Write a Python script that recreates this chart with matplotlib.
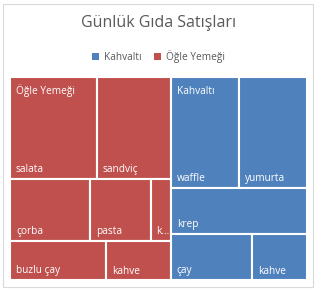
import matplotlib.pyplot as plt
from matplotlib.patches import Rectangle, Patch

plt.rcParams['font.family'] = ['Open Sans', 'DejaVu Sans']

# =========================
# data
# =========================
title = 'Günlük Gıda Satışları'
groups = ['Öğle Yemeği', 'Kahvaltı']
group_colors = ['#C0504D', '#4F81BD']

# rows as Excel laid them out (names + values per row)
ogle_names = [['salata', 'sandviç'], ['çorba', 'pasta', 'kurabiye'], ['buzlu çay', 'kahve']]
ogle_values = [[7, 6], [4, 3, 1], [3, 2]]
kahvalti_names = [['waffle', 'yumurta'], ['krep'], ['çay', 'kahve']]
kahvalti_values = [[6, 6], [5], [3, 2]]

group_names = [ogle_names, kahvalti_names]
group_values = [ogle_values, kahvalti_values]

# =========================
# figure
# =========================
W, H = 317, 290
fig = plt.figure(figsize=(W / 100, H / 100), dpi=100)

# plot area in pixels (left, top, right, bottom)
L, T, R, B = 10, 77, 306.7, 280
ax = fig.add_axes([L / W, 1 - B / H, (R - L) / W, (B - T) / H])
aw, ah = R - L, B - T
ax.set_xlim(0, aw)
ax.set_ylim(ah, 0)
ax.axis('off')

fig.patches.append(Rectangle((3 / W, 3 / H), 310 / W, 283 / H, transform=fig.transFigure,
                             fill=False, edgecolor='#D9D9D9', lw=0.8))

fig.text(0.5, 1 - 23 / H, title, ha='center', va='center', fontsize=11.5, color='#595959')

handles = [Patch(facecolor=group_colors[1], label=groups[1]),
           Patch(facecolor=group_colors[0], label=groups[0])]
fig.legend(handles=handles, loc='center', bbox_to_anchor=(0.5, 1 - 57 / H), ncol=2,
           frameon=False, fontsize=7.3, handlelength=0.7, handleheight=0.7,
           handletextpad=0.5, columnspacing=1.2, labelcolor='#595959')

renderer = fig.canvas.get_renderer()


def fit_label(txt, name, max_w):
    # kisalt: sigmayan etiketler "k..." gibi
    txt.set_text(name)
    if txt.get_window_extent(renderer).width <= max_w:
        return
    for n in range(len(name) - 1, 0, -1):
        txt.set_text(name[:n] + '...')
        if txt.get_window_extent(renderer).width <= max_w:
            return
    txt.set_text(name[0] + '...')


totals = [sum(sum(r) for r in v) for v in group_values]
grand = sum(totals)
gx = 0
for gi in range(len(groups)):
    gw = aw * totals[gi] / grand
    gy = 0
    first = True
    for names, vals in zip(group_names[gi], group_values[gi]):
        rh = ah * sum(vals) / totals[gi]
        x = gx
        for name, v in zip(names, vals):
            w = gw * v / sum(vals)
            ax.add_patch(Rectangle((x, gy), w, rh, facecolor=group_colors[gi],
                                   edgecolor='white', lw=1.5))
            t = ax.text(x + 6, gy + rh - 9, name, ha='left', va='center',
                        fontsize=7.3, color='white')
            fit_label(t, name, w - 8)
            if first:
                ax.text(x + 6, gy + 14, groups[gi], ha='left', va='center',
                        fontsize=7.3, color='white')
                first = False
            x += w
        gy += rh
    gx += gw

fig.savefig('out.png', dpi=100)
